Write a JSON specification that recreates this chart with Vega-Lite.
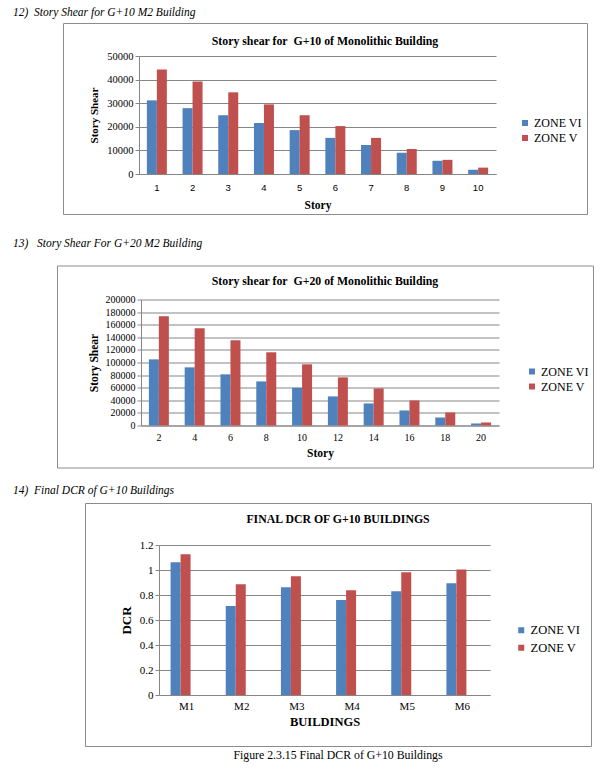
{
  "$schema": "https://vega.github.io/schema/vega-lite/v6.json",
  "background": "white",
  "padding": {"left": 13, "top": 7, "right": 5, "bottom": 5},
  "datasets": {
    "g10": [
      {"story": 1, "zone": "ZONE VI", "shear": 31200}, {"story": 1, "zone": "ZONE V", "shear": 44300},
      {"story": 2, "zone": "ZONE VI", "shear": 27900}, {"story": 2, "zone": "ZONE V", "shear": 39200},
      {"story": 3, "zone": "ZONE VI", "shear": 24900}, {"story": 3, "zone": "ZONE V", "shear": 34600},
      {"story": 4, "zone": "ZONE VI", "shear": 21600}, {"story": 4, "zone": "ZONE V", "shear": 29500},
      {"story": 5, "zone": "ZONE VI", "shear": 18600}, {"story": 5, "zone": "ZONE V", "shear": 24900},
      {"story": 6, "zone": "ZONE VI", "shear": 15300}, {"story": 6, "zone": "ZONE V", "shear": 20300},
      {"story": 7, "zone": "ZONE VI", "shear": 12300}, {"story": 7, "zone": "ZONE V", "shear": 15300},
      {"story": 8, "zone": "ZONE VI", "shear": 9000}, {"story": 8, "zone": "ZONE V", "shear": 10600},
      {"story": 9, "zone": "ZONE VI", "shear": 5600}, {"story": 9, "zone": "ZONE V", "shear": 6000},
      {"story": 10, "zone": "ZONE VI", "shear": 1800}, {"story": 10, "zone": "ZONE V", "shear": 2700}
    ],
    "g20": [
      {"story": 2, "zone": "ZONE VI", "shear": 105000}, {"story": 2, "zone": "ZONE V", "shear": 173500},
      {"story": 4, "zone": "ZONE VI", "shear": 92300}, {"story": 4, "zone": "ZONE V", "shear": 154400},
      {"story": 6, "zone": "ZONE VI", "shear": 81200}, {"story": 6, "zone": "ZONE V", "shear": 135300},
      {"story": 8, "zone": "ZONE VI", "shear": 70000}, {"story": 8, "zone": "ZONE V", "shear": 116200},
      {"story": 10, "zone": "ZONE VI", "shear": 59900}, {"story": 10, "zone": "ZONE V", "shear": 97100},
      {"story": 12, "zone": "ZONE VI", "shear": 46200}, {"story": 12, "zone": "ZONE V", "shear": 76400},
      {"story": 14, "zone": "ZONE VI", "shear": 35000}, {"story": 14, "zone": "ZONE V", "shear": 58900},
      {"story": 16, "zone": "ZONE VI", "shear": 23900}, {"story": 16, "zone": "ZONE V", "shear": 39800},
      {"story": 18, "zone": "ZONE VI", "shear": 12700}, {"story": 18, "zone": "ZONE V", "shear": 20700},
      {"story": 20, "zone": "ZONE VI", "shear": 3200}, {"story": 20, "zone": "ZONE V", "shear": 4800}
    ],
    "dcr": [
      {"building": "M1", "zone": "ZONE VI", "dcr": 1.062}, {"building": "M1", "zone": "ZONE V", "dcr": 1.126},
      {"building": "M2", "zone": "ZONE VI", "dcr": 0.712}, {"building": "M2", "zone": "ZONE V", "dcr": 0.887},
      {"building": "M3", "zone": "ZONE VI", "dcr": 0.863}, {"building": "M3", "zone": "ZONE V", "dcr": 0.951},
      {"building": "M4", "zone": "ZONE VI", "dcr": 0.76}, {"building": "M4", "zone": "ZONE V", "dcr": 0.839},
      {"building": "M5", "zone": "ZONE VI", "dcr": 0.831}, {"building": "M5", "zone": "ZONE V", "dcr": 0.983},
      {"building": "M6", "zone": "ZONE VI", "dcr": 0.895}, {"building": "M6", "zone": "ZONE V", "dcr": 1.004}
    ]
  },
  "title": {"text": "Figure 2.3.15 Final DCR of G+10 Buildings", "orient": "bottom", "anchor": "start", "frame": "group", "align": "center", "dx": 325, "offset": 8, "baseline": "middle", "fontSize": 11.8, "fontWeight": "normal", "font": "Liberation Serif", "color": "#000"},
  "columns": 1,
  "spacing": 22.5,
  "resolve": {"scale": {"color": "independent"}, "legend": {"color": "independent"}},
  "concat": [
    {
      "title": {"text": "12)\u00a0 Story Shear for G+10 M2 Building", "anchor": "start", "frame": "group", "offset": -2, "baseline": "middle", "fontStyle": "italic", "fontWeight": "normal", "fontSize": 11.5, "font": "Liberation Serif", "color": "#000"},
      "resolve": {"scale": {"color": "independent"}, "legend": {"color": "independent"}},
      "spacing": 0,
      "hconcat": [
        {"width": 49, "height": 10, "view": {"stroke": null}, "data": {"values": []}, "mark": "rect"},
        {
          "width": 524, "height": 191,
          "title": {"text": "Story shear for\u00a0 G+10 of Monolithic Building", "anchor": "middle", "frame": "group", "offset": -30, "baseline": "middle", "fontSize": 11.8, "font": "Liberation Serif", "fontWeight": "bold", "color": "#000"},
          "data": {"name": "g10"},
          "mark": {"type": "bar"},
          "encoding": {
            "x": {"field": "story", "type": "ordinal", "scale": {"range": [76, 433], "paddingInner": 0.44, "paddingOuter": 0.22},
              "axis": {"offset": -40, "labelAngle": 0, "ticks": false, "labelPadding": 8, "labelFont": "Liberation Sans", "labelFontSize": 9.5, "title": "Story", "titleFontSize": 11.5, "titlePadding": 8}},
            "xOffset": {"field": "zone", "type": "nominal", "scale": {"domain": ["ZONE VI", "ZONE V"]}},
            "y": {"field": "shear", "type": "quantitative", "scale": {"domain": [0, 50000], "range": [151, 33], "nice": false},
              "axis": {"offset": -76, "values": [0, 10000, 20000, 30000, 40000, 50000], "format": "d", "title": "Story Shear", "titlePadding": 7, "titleFontSize": 11, "labelFontSize": 10.5, "tickSize": 4, "labelPadding": 2}},
            "color": {"field": "zone", "type": "nominal", "scale": {"domain": ["ZONE VI", "ZONE V"], "range": ["#4F81BD", "#C0504D"]},
              "legend": {"orient": "none", "legendX": 456, "legendY": 94, "title": null, "labelFontSize": 12, "rowPadding": 3}}
          }
        }
      ]
    },
    {
      "spacing": 16.5,
      "resolve": {"scale": {"color": "independent"}, "legend": {"color": "independent"}},
      "vconcat": [
        {
          "title": {"text": "13)\u00a0\u00a0 Story Shear For G+20 M2 Building", "anchor": "start", "frame": "group", "offset": 9.5, "baseline": "middle", "fontStyle": "italic", "fontWeight": "normal", "fontSize": 11.5, "font": "Liberation Serif", "color": "#000"},
          "resolve": {"scale": {"color": "independent"}, "legend": {"color": "independent"}},
          "spacing": 0,
          "hconcat": [
            {"width": 43, "height": 10, "view": {"stroke": null}, "data": {"values": []}, "mark": "rect"},
            {
              "width": 536, "height": 202,
              "title": {"text": "Story shear for\u00a0 G+20 of Monolithic Building", "anchor": "middle", "frame": "group", "offset": -27.5, "baseline": "middle", "fontSize": 11.8, "font": "Liberation Serif", "fontWeight": "bold", "color": "#000"},
              "data": {"name": "g20"},
              "mark": {"type": "bar"},
              "encoding": {
                "x": {"field": "story", "type": "ordinal", "scale": {"range": [84, 442], "paddingInner": 0.44, "paddingOuter": 0.22},
                  "axis": {"offset": -42, "labelAngle": 0, "ticks": false, "labelPadding": 7, "labelFontSize": 10, "title": "Story", "titleFontSize": 11.5, "titlePadding": 5}},
                "xOffset": {"field": "zone", "type": "nominal", "scale": {"domain": ["ZONE VI", "ZONE V"]}},
                "y": {"field": "shear", "type": "quantitative", "scale": {"domain": [0, 200000], "range": [160, 34], "nice": false},
                  "axis": {"offset": -84, "values": [0, 20000, 40000, 60000, 80000, 100000, 120000, 140000, 160000, 180000, 200000], "format": "d", "title": "Story Shear", "titlePadding": 6, "titleFontSize": 11.5, "labelFontSize": 10, "tickSize": 4, "labelPadding": 2}},
                "color": {"field": "zone", "type": "nominal", "scale": {"domain": ["ZONE VI", "ZONE V"], "range": ["#4F81BD", "#C0504D"]},
                  "legend": {"orient": "none", "legendX": 469, "legendY": 100, "title": null, "labelFontSize": 12, "rowPadding": 3}}
              }
            }
          ]
        },
        {
          "title": {"text": "14)\u00a0 Final DCR of G+10 Buildings", "anchor": "start", "frame": "group", "offset": 0, "baseline": "middle", "fontStyle": "italic", "fontWeight": "normal", "fontSize": 11.5, "font": "Liberation Serif", "color": "#000"},
          "resolve": {"scale": {"color": "independent"}, "legend": {"color": "independent"}},
          "spacing": 0,
          "hconcat": [
            {"width": 71, "height": 10, "view": {"stroke": null}, "data": {"values": []}, "mark": "rect"},
            {
              "width": 506, "height": 243,
              "title": {"text": "FINAL DCR OF G+10 BUILDINGS", "anchor": "middle", "frame": "group", "offset": -28, "baseline": "middle", "fontSize": 11.8, "font": "Liberation Serif", "fontWeight": "bold", "color": "#000"},
              "data": {"name": "dcr"},
              "mark": {"type": "bar"},
              "encoding": {
                "x": {"field": "building", "type": "nominal", "scale": {"range": [74, 405], "paddingInner": 0.42, "paddingOuter": 0.21},
                  "axis": {"offset": -51, "labelAngle": 0, "ticks": false, "labelPadding": 5, "labelFontSize": 11, "title": "BUILDINGS", "titleFontSize": 12.5, "titlePadding": 4}},
                "xOffset": {"field": "zone", "type": "nominal", "scale": {"domain": ["ZONE VI", "ZONE V"]}},
                "y": {"field": "dcr", "type": "quantitative", "scale": {"domain": [0, 1.2], "range": [192, 42], "nice": false},
                  "axis": {"offset": -74, "values": [0, 0.2, 0.4, 0.6, 0.8, 1, 1.2], "format": "~g", "title": "DCR", "titlePadding": 6, "titleFontSize": 13, "labelFontSize": 11, "tickSize": 4, "labelPadding": 2}},
                "color": {"field": "zone", "type": "nominal", "scale": {"domain": ["ZONE VI", "ZONE V"], "range": ["#4F81BD", "#C0504D"]},
                  "legend": {"orient": "none", "legendX": 430, "legendY": 121, "title": null, "labelFontSize": 12.5, "rowPadding": 4.5}}
              }
            }
          ]
        }
      ]
    }
  ],
  "config": {
    "view": {"stroke": "#8c8c8c", "strokeWidth": 1},
    "axis": {"labelFont": "Liberation Serif", "titleFont": "Liberation Serif", "labelColor": "#000", "titleColor": "#000", "titleFontWeight": "bold", "domainColor": "#868686", "tickColor": "#868686", "gridColor": "#868686", "gridWidth": 1, "domainWidth": 1},
    "legend": {"labelFont": "Liberation Serif", "labelColor": "#000", "symbolType": "square", "symbolSize": 36, "symbolStrokeWidth": 0, "labelOffset": 3},
    "title": {"font": "Liberation Serif", "color": "#000"}
  }
}
